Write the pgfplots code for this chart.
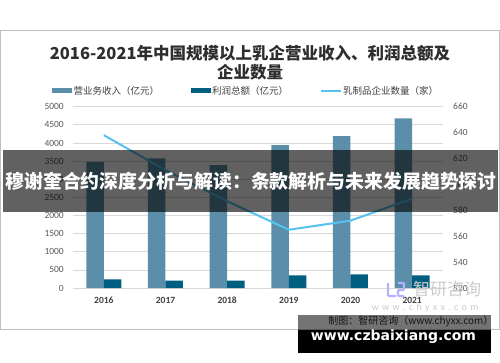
\documentclass[border=0pt]{standalone}
\usepackage{pgfplots}
\pgfplotsset{compat=1.18}
\usepackage{fontspec}
\setmainfont{Carlito}
\newfontfamily\cjk{Noto Sans CJK SC}
\newfontfamily\dv{DejaVu Sans}
\definecolor{rev}{HTML}{5B8FA9}
\definecolor{prof}{HTML}{005F80}
\definecolor{cnt}{HTML}{55C2F0}
\definecolor{gridc}{HTML}{D9D9D9}
\definecolor{tickc}{HTML}{595959}
\begin{document}
\begin{tikzpicture}[x=1pt,y=1pt]
\useasboundingbox (0,0) rectangle (500,362);
\fill[white] (0,0) rectangle (500,362);
\draw[gray!50, line width=0.8pt] (0.5,32.5) rectangle (499.5,332);
\node[font=\cjk\bfseries\fontsize{16.5}{18}\selectfont, text=black!82] at (250,308.7) {2016-2021年中国规模以上乳企营业收入、利润总额及};
\node[font=\cjk\bfseries\fontsize{16.5}{18}\selectfont, text=black!82] at (250,290) {企业数量};
\begin{axis}[
  at={(73pt,74pt)}, anchor=south west, scale only axis,
  width=370pt, height=181.3pt,
  xmin=-0.5, xmax=5.5, ymin=0, ymax=5000,
  ybar=0pt, bar width=17.5pt,
  xtick=data, xticklabels={2016,2017,2018,2019,2020,2021},
  ytick={0,500,...,5000},
  ymajorgrids, grid style={gridc, line width=0.7pt},
  axis y line*=left, axis x line*=bottom,
  y axis line style={draw=none}, x axis line style={gridc, line width=0.7pt},
  major tick length=0pt,
  /pgf/number format/assume math mode=true,
  /pgf/number format/1000 sep={},
  yticklabel style={font=\fontsize{9.5}{10}\selectfont, text=tickc, inner sep=0pt, anchor=east, xshift=-9pt},
  xticklabel style={font=\bfseries\fontsize{9.5}{10}\selectfont, text=black!75, inner sep=0pt, anchor=north, yshift=-9pt},
  legend columns=3,
  legend style={at={(-0.057,1.087)}, anchor=west, draw=none, fill=none,
    font=\cjk\fontsize{9.5}{10}\selectfont, text=black!75, inner sep=0pt,
    nodes={inner sep=1.5pt},
    /tikz/every even column/.append style={column sep=30pt}},
  legend cell align=left,
]
\addplot[fill=rev, draw=none, legend image code/.code={\fill[rev] (0pt,-2.5pt) rectangle (20pt,2.5pt);}] coordinates {(0,3480)(1,3572)(2,3388)(3,3939)(4,4187)(5,4675)};
\addplot[fill=prof, draw=none, legend image code/.code={\fill[prof] (0pt,-2.5pt) rectangle (20pt,2.5pt);}] coordinates {(0,240)(1,205)(2,205)(3,350)(4,377)(5,350)};
\addlegendimage{legend image code/.code={\draw[cnt, line width=2pt] (0pt,0pt)--(20pt,0pt);}}
\legend{营业务收入（亿元）,利润总额（亿元）,乳制品企业数量（家）}
\end{axis}
\begin{axis}[
  at={(73pt,74pt)}, anchor=south west, scale only axis,
  width=370pt, height=181.3pt,
  xmin=-0.5, xmax=5.5, ymin=520, ymax=660,
  ytick={520,540,...,660},
  axis y line*=right, axis x line=none,
  y axis line style={draw=none},
  major tick length=0pt,
  /pgf/number format/assume math mode=true,
  yticklabel style={font=\fontsize{9.5}{10}\selectfont, text=tickc, inner sep=0pt, anchor=west, xshift=10pt},
]
\addplot[cnt, line width=2pt, mark=none] coordinates {(0,638)(1,611)(2,587)(3,565)(4,572)(5,589)};
\end{axis}
% watermark
\draw[blue!30, line width=2.2pt, rounded corners=1pt] (388,79) -- (388,66) -- (396,66);
\draw[blue!30, line width=2.2pt, rounded corners=1pt] (398,79) -- (404,79) -- (404,72) -- (398,72) -- (398,66) -- (404,66);
\node[text=gray!40, font=\cjk\fontsize{17}{17}\selectfont] at (447,72.5) {智研咨询};
\node[text=gray!40, font=\fontsize{10}{10}\selectfont] at (425,54) {w\,\,w\,\,w\,\,.\,\,c\,\,h\,\,y\,\,x\,\,x\,\,.\,\,c\,\,o\,\,m};
\node[anchor=east, font=\cjk\fontsize{10}{11}\selectfont, text=black!80] at (497,41) {制图：智研咨询（www.chyxx.com）};
% overlays
\fill[black, opacity=0.62] (3,150) rectangle (498,212);
\node[text=white, font=\cjk\bfseries\fontsize{18.9}{19}\selectfont] at (251,181) {穆谢奎合约深度分析与解读：条款解析与未来发展趋势探讨};
\fill[black, opacity=0.55] (298,32) rectangle (491,47);
\fill[black] (298,9) rectangle (491,32);
\node[text=white, font=\dv\bfseries\fontsize{14}{14}\selectfont] at (393.5,25.3) {www.czbaixiang.com};
\end{tikzpicture}
\end{document}
